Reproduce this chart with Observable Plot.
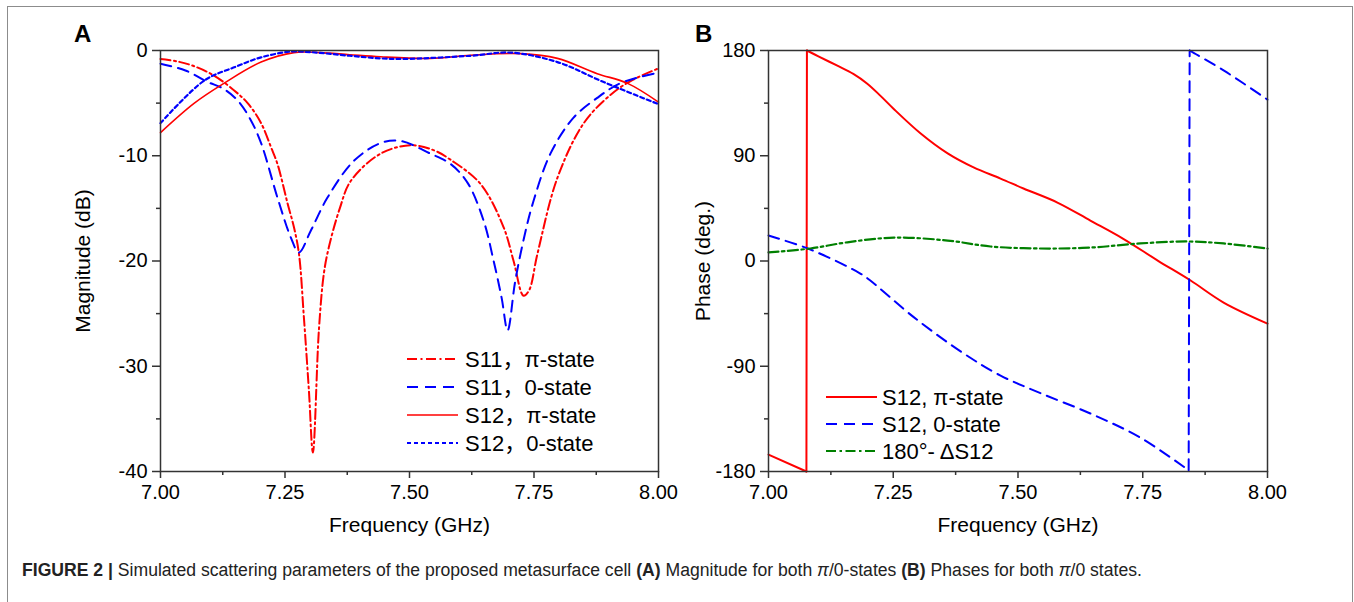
<!DOCTYPE html>
<html><head><meta charset="utf-8">
<script src="https://cdn.jsdelivr.net/npm/d3@7"></script>
<script src="https://cdn.jsdelivr.net/npm/@observablehq/plot@0.6"></script>
<style>
body{margin:0;background:#fff;font-family:Arial,"Liberation Sans",Helvetica,sans-serif;}
#fig{position:relative;width:1354px;height:602px;overflow:hidden;background:#fff;}
#border{position:absolute;left:7px;top:6px;width:1346px;height:640px;border:1px solid #8c8c8c;box-sizing:border-box;}
.panel{position:absolute;top:20px;}
.letter{position:absolute;font-weight:bold;font-size:24px;line-height:1;color:#000;}
#caption{position:absolute;left:22px;top:560px;font-family:"Liberation Sans Narrow","Arial Narrow",Arial,sans-serif;font-stretch:condensed;font-size:17.6px;color:#222;white-space:nowrap;}
#overlay{position:absolute;left:0;top:0;pointer-events:none;}
</style>
</head><body>
<div id="fig">
  <div id="border"></div>
  <div class="letter" style="left:74px;top:22px;">A</div>
  <div class="letter" style="left:695px;top:22px;">B</div>
  <div class="panel" id="pa" style="left:60px;"></div>
  <div class="panel" id="pb" style="left:680px;"></div>
  <svg id="overlay" width="1354" height="602"></svg>
  <div id="caption"><b>FIGURE 2 |</b> Simulated scattering parameters of the proposed metasurface cell <b>(A)</b> Magnitude for both <i>π</i>/0-states <b>(B)</b> Phases for both <i>π</i>/0 states.</div>
</div>
<script>
// ---------- Panel A: magnitude (dB) ----------
const fS11pi = [7.000, 7.035, 7.068, 7.108, 7.148, 7.175, 7.202, 7.222, 7.235, 7.255, 7.268, 7.278, 7.288, 7.298, 7.306, 7.318, 7.328, 7.338, 7.360, 7.382, 7.442, 7.503, 7.550, 7.583, 7.643, 7.689, 7.709, 7.729, 7.740, 7.757, 7.797, 7.850, 7.904, 7.944, 8.000];
const vS11pi = [-0.8, -1.05, -1.5, -2.4, -3.8, -5.0, -6.9, -9.2, -10.8, -14.5, -16.8, -19.3, -25.4, -32.3, -38.2, -26.6, -21.2, -18.7, -15.0, -12.4, -9.8, -9.0, -9.5, -10.4, -12.7, -16.8, -20.0, -23.3, -22.8, -19.3, -12.1, -6.9, -4.2, -2.9, -1.7];

const fS11zero = [7.000, 7.050, 7.095, 7.125, 7.155, 7.180, 7.202, 7.235, 7.262, 7.278, 7.302, 7.335, 7.388, 7.442, 7.482, 7.542, 7.583, 7.617, 7.649, 7.669, 7.685, 7.697, 7.712, 7.729, 7.749, 7.783, 7.829, 7.877, 7.924, 8.000];
const vS11zero = [-1.25, -1.9, -3.0, -3.6, -4.75, -6.5, -8.8, -14.0, -17.8, -19.2, -17.1, -14.0, -10.5, -8.8, -8.6, -9.8, -10.8, -12.6, -16.2, -20.0, -23.5, -26.6, -22.0, -18.0, -14.3, -9.8, -6.4, -4.5, -3.1, -2.1];

const fS12pi = [7.000, 7.068, 7.128, 7.202, 7.268, 7.320, 7.380, 7.442, 7.542, 7.623, 7.723, 7.797, 7.877, 7.937, 8.000];
const vS12pi = [-7.8, -5.0, -3.1, -1.1, -0.2, -0.2, -0.4, -0.6, -0.75, -0.45, -0.3, -0.75, -2.2, -3.1, -4.9];

const fS12zero = [7.000, 7.088, 7.148, 7.202, 7.262, 7.300, 7.380, 7.442, 7.489, 7.623, 7.703, 7.797, 7.890, 8.000];
const vS12zero = [-6.9, -2.85, -1.6, -0.65, -0.1, -0.15, -0.5, -0.75, -0.8, -0.5, -0.2, -1.1, -3.0, -5.1];

// ---------- Panel B: phase (deg.) ----------
const fPhPi = [7.000, 7.076, 7.077, 7.100, 7.138, 7.170, 7.198, 7.225, 7.251, 7.305, 7.359, 7.411, 7.465, 7.511, 7.579, 7.645, 7.711, 7.780, 7.846, 7.912, 8.000];
const vPhPi = [-165.5, -180, 180, 175, 167, 160, 151.6, 141, 130, 109, 92, 80, 70.5, 62, 50, 34.6, 19, 0.4, -16.7, -35.5, -53.5];

const fPhZero = [7.000, 7.084, 7.184, 7.204, 7.291, 7.391, 7.465, 7.545, 7.645, 7.745, 7.842, 7.844, 7.856, 7.912, 8.000];
const vPhZero = [21.8, 9.8, -10.7, -16.7, -48, -79, -98, -113, -130.4, -151, -179, 180, 177, 163, 138];

const fDiff = [7.000, 7.084, 7.158, 7.251, 7.359, 7.445, 7.545, 7.645, 7.745, 7.840, 7.912, 8.000];
const vDiff = [7.3, 10.7, 16, 20, 17.5, 12.4, 10.7, 11.5, 15, 16.7, 15, 10.7];

// ticks
const xMajor = [7.00, 7.25, 7.50, 7.75, 8.00];
const xMinor = [7.125, 7.375, 7.625, 7.875];
const yMajorA = [0, -10, -20, -30, -40];
const yMinorA = [-5, -15, -25, -35];
const yMajorB = [180, 90, 0, -90, -180];
const yMinorB = [135, 45, -45, -135];

// labels
const legendA = ["S11，π-state", "S11，0-state", "S12，π-state", "S12，0-state"];
const legendB = ["S12, π-state", "S12, 0-state", "180°- ΔS12"];

const RED = "#ff0000", BLUE = "#0000ff", GREEN = "#008000";
const zip = (f, v) => f.map((x, i) => ({f: x, v: v[i]}));

const seriesA = [
  {data: zip(fS11pi, vS11pi), stroke: RED, dash: "10,3.5,2,3.5", width: 2, label: legendA[0]},
  {data: zip(fS11zero, vS11zero), stroke: BLUE, dash: "11,7", width: 2, label: legendA[1]},
  {data: zip(fS12pi, vS12pi), stroke: RED, dash: null, width: 1.6, label: legendA[2]},
  {data: zip(fS12zero, vS12zero), stroke: BLUE, dash: "4,3", width: 2.2, label: legendA[3]}
];
const seriesB = [
  {data: zip(fPhPi, vPhPi), stroke: RED, dash: null, width: 2, label: legendB[0]},
  {data: zip(fPhZero, vPhZero), stroke: BLUE, dash: "11,7", width: 2, label: legendB[1]},
  {data: zip(fDiff, vDiff), stroke: GREEN, dash: "10,3.5,2.5,3.5", width: 2.2, label: legendB[2]}
];

const FONT = "Arial, 'Liberation Sans', 'Noto Sans CJK SC', sans-serif";
const style = {fontFamily: FONT, fontSize: "20px", color: "#000", background: "transparent", overflow: "visible"};
const AX = "#333";

// split a series at phase wraps: smooth pieces + straight vertical jumps
function lineMarks(s) {
  const pieces = [[]], jumps = [];
  s.data.forEach((d, i) => {
    if (i > 0 && Math.abs(d.v - s.data[i - 1].v) > 180) {
      jumps.push([s.data[i - 1], d]);
      pieces.push([]);
    }
    pieces[pieces.length - 1].push(d);
  });
  const opts = {x: "f", y: "v", stroke: s.stroke, strokeWidth: s.width, strokeDasharray: s.dash};
  return [
    ...pieces.map(p => Plot.line(p, {...opts, curve: "catmull-rom"})),
    ...jumps.map(j => Plot.line(j, {...opts, curve: "linear"}))
  ];
}

function panel(series, yDomain, yMajor, yMinor, yLabel, marginLeft, marginRight, yLabelOffset) {
  return Plot.plot({
    width: 620, height: 520,
    marginLeft, marginRight, marginTop: 30, marginBottom: 69,
    style,
    x: {domain: [7, 8]},
    y: {domain: yDomain},
    marks: [
      Plot.axisX({ticks: xMajor, tickSize: 7, tickPadding: 6, stroke: AX, strokeWidth: 1.5, tickFormat: d3.format(".2f"), fontSize: 20,
        label: null}),
      Plot.axisX({ticks: xMinor, tickSize: 4, stroke: AX, strokeWidth: 1.5, tickFormat: () => "", label: null}),
      Plot.axisX({ticks: [], tickSize: 0, label: "Frequency (GHz)", labelAnchor: "center", labelOffset: 60, labelArrow: "none", fontSize: 21}),
      Plot.axisY({ticks: yMajor, tickSize: 8, tickPadding: 5, stroke: AX, strokeWidth: 1.5, tickFormat: d => String(d), fontSize: 20,
        label: null}),
      Plot.axisY({ticks: yMinor, tickSize: 4, stroke: AX, strokeWidth: 1.5, tickFormat: () => "", label: null}),
      Plot.axisY({ticks: [], tickSize: 0, label: yLabel, labelAnchor: "center", labelOffset: yLabelOffset, labelArrow: "none", fontSize: 21}),
      ...series.flatMap(lineMarks),
      Plot.frame({stroke: AX, strokeWidth: 1.5})
    ]
  });
}

document.getElementById("pa").append(panel(seriesA, [-40, 0], yMajorA, yMinorA, "Magnitude (dB)", 100, 22, 85));
document.getElementById("pb").append(panel(seriesB, [-180, 180], yMajorB, yMinorB, "Phase (deg.)", 88, 33, 73));

// legends
function legend(series, x0, x1, tx, y0, dy) {
  const g = d3.select("#overlay").append("g");
  series.forEach((s, i) => {
    const y = y0 + i * dy;
    g.append("line").attr("x1", x0).attr("x2", x1).attr("y1", y).attr("y2", y)
      .attr("stroke", s.stroke).attr("stroke-width", s.width)
      .attr("stroke-dasharray", s.dash);
    g.append("text").attr("x", tx).attr("y", y).attr("dy", "0.36em")
      .attr("font-family", FONT).attr("font-size", 22)
      .attr("fill", "#000").text(s.label);
  });
}
legend(seriesA, 407, 458, 465, 359, 28);
legend(seriesB, 826, 877, 882, 397, 27);
</script>
</body></html>
